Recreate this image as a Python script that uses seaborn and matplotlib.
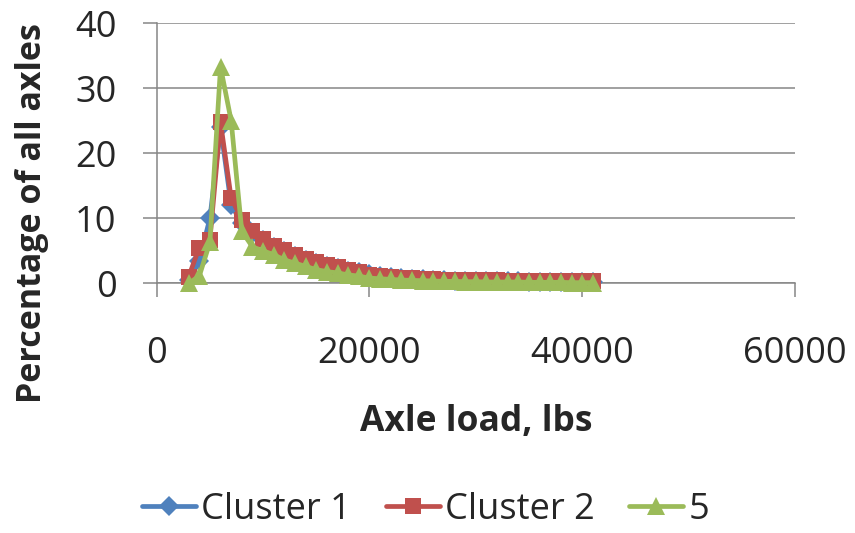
import matplotlib
matplotlib.use("Agg")
import matplotlib.pyplot as plt
import seaborn as sns

axle_load = [3000, 4000, 5000, 6000, 7000, 8000, 9000, 10000, 11000, 12000,
             13000, 14000, 15000, 16000, 17000, 18000, 19000, 20000, 21000, 22000,
             23000, 24000, 25000, 26000, 27000, 28000, 29000, 30000, 31000, 32000,
             33000, 34000, 35000, 36000, 37000, 38000, 39000, 40000, 41000]

cluster1 = [0.5, 3.5, 10.0, 24.0, 12.0, 9.3, 7.8, 6.6, 5.6, 4.9,
            4.2, 3.6, 3.1, 2.6, 2.3, 1.9, 1.7, 1.4, 1.1, 0.9,
            0.8, 0.7, 0.6, 0.5, 0.45, 0.4, 0.4, 0.35, 0.35, 0.3,
            0.3, 0.3, 0.25, 0.25, 0.25, 0.2, 0.2, 0.2, 0.2]

cluster2 = [1.0, 5.5, 6.7, 24.8, 13.1, 9.8, 8.0, 6.8, 5.8, 5.1,
            4.4, 3.8, 3.3, 2.8, 2.5, 2.0, 1.7, 1.3, 1.1, 0.95,
            0.85, 0.75, 0.7, 0.6, 0.55, 0.5, 0.5, 0.45, 0.45, 0.45,
            0.4, 0.4, 0.4, 0.4, 0.4, 0.35, 0.35, 0.35, 0.35]

series5 = [0.0, 1.1, 6.3, 33.3, 25.0, 8.0, 5.6, 5.0, 4.4, 3.6,
           3.1, 2.6, 2.1, 1.8, 1.6, 1.3, 1.1, 0.8, 0.7, 0.6,
           0.5, 0.45, 0.4, 0.35, 0.3, 0.3, 0.25, 0.25, 0.2, 0.2,
           0.2, 0.2, 0.15, 0.15, 0.15, 0.15, 0.1, 0.1, 0.1]

series_names = ["Cluster 1", "Cluster 2", "5"]
x_ticks = [0, 20000, 40000, 60000]
y_ticks = [0, 10, 20, 30, 40]

sns.set_style("white")
plt.rcParams["font.family"] = ["Open Sans", "DejaVu Sans"]

fig = plt.figure(figsize=(8.55, 5.33), dpi=100)
ax = fig.add_axes([156.7 / 855, 1 - 283.3 / 533, (795 - 156.7) / 855, (283.3 - 23.3) / 533])

gray = "#868686"
styles = [
    (cluster1, "#4F81BD", "D", 10),
    (cluster2, "#C0504D", "s", 11.5),
    (series5, "#9BBB59", "^", 13.5),
]
for (vals, col, mk, ms), name in zip(styles, series_names):
    sns.lineplot(x=axle_load, y=vals, ax=ax, color=col, marker=mk, markersize=ms,
                 markeredgewidth=0, markerfacecolor=col, linewidth=3.4,
                 label=name, clip_on=False, zorder=3)

ax.set_xlim(0, 60000)
ax.set_ylim(0, 40)
ax.set_xticks(x_ticks)
ax.set_yticks(y_ticks)
ax.set_xticklabels([str(v) for v in x_ticks])
ax.set_yticklabels([str(v) for v in y_ticks])

ax.yaxis.grid(True, color=gray, linewidth=1.1)
ax.xaxis.grid(False)
ax.set_axisbelow(True)
for side in ["top", "right"]:
    ax.spines[side].set_visible(False)
for side in ["left", "bottom"]:
    ax.spines[side].set_color(gray)
    ax.spines[side].set_linewidth(1.1)

ax.tick_params(axis="x", direction="out", length=10, width=1.1, color=gray,
               labelsize=26, pad=28, bottom=True)
ax.tick_params(axis="y", direction="out", length=10, width=1.1, color=gray,
               labelsize=26, pad=19, left=True)

ax.set_xlabel("Axle load, lbs", fontsize=25.5, fontweight="bold")
ax.xaxis.label.set_va("center")
ax.xaxis.set_label_coords(0.5, (283.3 - 422.5) / 260)
ax.set_ylabel("Percentage of all axles", fontsize=24.5, fontweight="bold")
ax.yaxis.label.set_va("center")
ax.yaxis.set_label_coords((32 - 156.7) / 638.3, (283.3 - 213) / 260)

ax.get_legend().remove()
handles, labels = ax.get_legend_handles_labels()
fig.legend(handles, labels, loc="center", bbox_to_anchor=(425.5 / 855, 1 - 510 / 533),
           ncol=3, frameon=False, fontsize=26, handlelength=1.5, handletextpad=0.14,
           columnspacing=0.96, borderpad=0, borderaxespad=0)

fig.savefig("out.png", dpi=100)
